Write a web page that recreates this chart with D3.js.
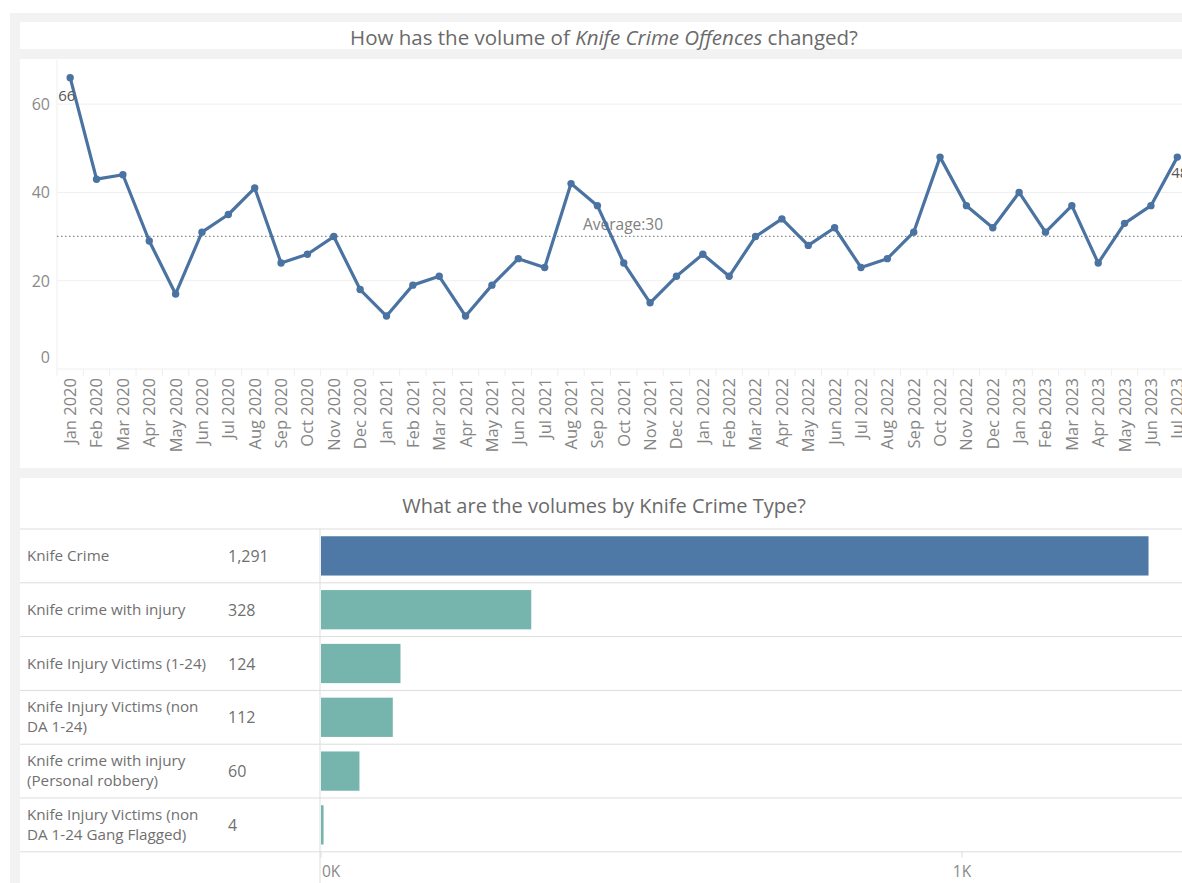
<!DOCTYPE html>
<html>
	<head>
		<meta charset="utf-8">
		<title>Knife Crime</title>
		<script src="https://d3js.org/d3.v7.min.js"></script>
		<style>
			body { margin:0; background:#fff; }
			text { font-family: "Open Sans", sans-serif; }
		</style>
	</head>
	<body>
		<script>

			var months = ["Jan 2020","Feb 2020","Mar 2020","Apr 2020","May 2020","Jun 2020","Jul 2020","Aug 2020","Sep 2020","Oct 2020","Nov 2020","Dec 2020",
				"Jan 2021","Feb 2021","Mar 2021","Apr 2021","May 2021","Jun 2021","Jul 2021","Aug 2021","Sep 2021","Oct 2021","Nov 2021","Dec 2021",
				"Jan 2022","Feb 2022","Mar 2022","Apr 2022","May 2022","Jun 2022","Jul 2022","Aug 2022","Sep 2022","Oct 2022","Nov 2022","Dec 2022",
				"Jan 2023","Feb 2023","Mar 2023","Apr 2023","May 2023","Jun 2023","Jul 2023"];

			var offences = [66,43,44,29,17,31,35,41,24,26,30,18,
				12,19,21,12,19,25,23,42,37,24,15,21,
				26,21,30,34,28,32,23,25,31,48,37,32,
				40,31,37,24,33,37,48];

			var yTicks = [0,20,40,60];

			var crimeTypes = [
				["Knife Crime"],
				["Knife crime with injury"],
				["Knife Injury Victims (1-24)"],
				["Knife Injury Victims (non","DA 1-24)"],
				["Knife crime with injury","(Personal robbery)"],
				["Knife Injury Victims (non","DA 1-24 Gang Flagged)"]
			];
			var typeVolumes = [1291,328,124,112,60,4];
			var xTicks = [0,1000];

			var W = 1182, H = 883;
			var svg = d3.select("body").append("svg")
				.attr("width", W)
				.attr("height", H);

			// grey dashboard background + white panels
			svg.append("rect").attr("x",10).attr("y",13).attr("width",W-10).attr("height",H-13).attr("fill","#f2f2f2");
			svg.append("rect").attr("x",20).attr("y",22).attr("width",W-20).attr("height",27).attr("fill","#fff");
			svg.append("rect").attr("x",20).attr("y",59).attr("width",W-20).attr("height",409).attr("fill","#fff");
			svg.append("rect").attr("x",20).attr("y",478).attr("width",W-20).attr("height",H-478).attr("fill","#fff");

			// ---- line chart ----
			var title1 = svg.append("text")
				.attr("x", 604).attr("y", 45)
				.attr("text-anchor","middle")
				.attr("font-size", 20.5)
				.attr("fill","#6a6a6a");
			title1.append("tspan").text("How has the volume of ");
			title1.append("tspan").attr("font-style","italic").text("Knife Crime Offences");
			title1.append("tspan").text(" changed?");

			var plotLeft = 57, plotTop = 60, plotBottom = 369;
			var x = d3.scaleBand().domain(months).range([plotLeft, plotLeft + months.length*26.36]);
			var y = d3.scaleLinear().domain([0,70]).range([plotBottom, plotTop]);

			var plot = svg.append("g");

			plot.selectAll(".grid").data(yTicks.slice(1)).enter().append("line")
				.attr("x1", plotLeft).attr("x2", W)
				.attr("y1", function(d){ return y(d); })
				.attr("y2", function(d){ return y(d); })
				.attr("stroke","#efefef");

			plot.append("line").attr("x1",plotLeft).attr("x2",plotLeft).attr("y1",plotTop).attr("y2",plotBottom+7).attr("stroke","#efefef");
			plot.append("line").attr("x1",plotLeft).attr("x2",W).attr("y1",plotBottom).attr("y2",plotBottom).attr("stroke","#efefef");

			// y labels (0 sits inside the plot like tableau does)
			plot.selectAll(".ylab").data(yTicks).enter().append("text")
				.attr("x", 50)
				.attr("y", function(d){ return d == 0 ? y(d) - 6 : y(d) + 6; })
				.attr("text-anchor","end")
				.attr("font-size", 16)
				.attr("fill","#8a8a8a")
				.text(function(d){ return d; });

			// band separators under the axis
			plot.selectAll(".sep").data(months).enter().append("line")
				.attr("x1", function(d){ return x(d) + x.bandwidth(); })
				.attr("x2", function(d){ return x(d) + x.bandwidth(); })
				.attr("y1", plotBottom).attr("y2", plotBottom + 7)
				.attr("stroke","#efefef");

			var xAxis = plot.append("g")
				.attr("transform","translate(0," + (plotBottom + 6) + ")")
				.call(d3.axisBottom(x).tickSize(0).tickPadding(0));
			xAxis.select(".domain").remove();
			xAxis.selectAll("text")
				.attr("transform","rotate(-90)")
				.attr("x", -3).attr("y", 0).attr("dy","0.36em")
				.attr("text-anchor","end")
				.attr("font-family","Open Sans, sans-serif")
				.attr("font-size", 16.5)
				.attr("fill","#858585");

			// average reference line
			var avg = d3.mean(offences);
			plot.append("line")
				.attr("x1", plotLeft).attr("x2", W)
				.attr("y1", y(avg)).attr("y2", y(avg))
				.attr("stroke","#888").attr("stroke-width",1.2)
				.attr("stroke-dasharray","1.5,2.5");
			plot.append("text")
				.attr("x", 623).attr("y", y(avg) - 6)
				.attr("text-anchor","middle")
				.attr("font-size", 15.5)
				.attr("fill","#808080")
				.text("Average:" + Math.round(avg));

			var cx = function(d,i){ return x(months[i]) + x.bandwidth()/2; };
			var line = d3.line().x(cx).y(function(d){ return y(d); });

			plot.append("path")
				.datum(offences)
				.attr("fill","none")
				.attr("stroke","#4a73a1")
				.attr("stroke-width",3.2)
				.attr("stroke-linejoin","round")
				.attr("d", line);

			plot.selectAll(".pt").data(offences).enter().append("circle")
				.attr("cx", cx)
				.attr("cy", function(d){ return y(d); })
				.attr("r", 3.7)
				.attr("fill","#4a73a1");

			// first / last labels
			var last = offences.length - 1;
			plot.append("text").attr("x", cx(0,0) - 12).attr("y", y(offences[0]) + 23)
				.attr("font-size",15).attr("fill","#555").text(offences[0]);
			plot.append("text").attr("x", cx(0,last) - 6).attr("y", y(offences[last]) + 21)
				.attr("font-size",15).attr("fill","#555").text(offences[last]);

			// ---- bar chart ----
			svg.append("text")
				.attr("x", 604).attr("y", 513)
				.attr("text-anchor","middle")
				.attr("font-size", 20)
				.attr("fill","#6a6a6a")
				.text("What are the volumes by Knife Crime Type?");

			var rowTop = 529, rowH = 53.8;
			var rows = d3.range(crimeTypes.length);
			var band = d3.scaleBand().domain(rows).range([rowTop, rowTop + rowH*rows.length]).paddingInner(0.27).paddingOuter(0.135);
			var bx = d3.scaleLinear().domain([0,1000]).range([321, 962]);

			var bars = svg.append("g");

			bars.selectAll(".rowline").data(d3.range(rows.length + 1)).enter().append("line")
				.attr("x1", 20).attr("x2", W)
				.attr("y1", function(d){ return rowTop + d*rowH; })
				.attr("y2", function(d){ return rowTop + d*rowH; })
				.attr("stroke","#dddddd");

			bars.append("line").attr("x1",320).attr("x2",320).attr("y1",rowTop).attr("y2",H).attr("stroke","#dddddd");

			bars.selectAll(".bar").data(typeVolumes).enter().append("rect")
				.attr("x", bx(0))
				.attr("y", function(d,i){ return band(i); })
				.attr("width", function(d){ return bx(d) - bx(0); })
				.attr("height", band.bandwidth())
				.attr("fill", function(d,i){ return i == 0 ? "#4e78a5" : "#76b5ae"; });

			bars.selectAll(".lab").data(crimeTypes).enter().append("text")
				.attr("x", 27)
				.attr("y", function(d,i){ return rowTop + i*rowH + rowH/2 + 5 - (d.length - 1)*10; })
				.attr("font-size", 15.2)
				.attr("fill","#707070")
				.each(function(d){
					var t = d3.select(this);
					d.forEach(function(s,k){
						t.append("tspan").attr("x",27).attr("dy", k == 0 ? 0 : 20).text(s);
					});
				});

			bars.selectAll(".val").data(typeVolumes).enter().append("text")
				.attr("x", 228)
				.attr("y", function(d,i){ return rowTop + i*rowH + rowH/2 + 6; })
				.attr("font-size", 16)
				.attr("fill","#707070")
				.text(d3.format(","));

			var axisY = rowTop + rowH*rows.length;
			bars.selectAll(".xt").data(xTicks).enter().append("line")
				.attr("x1", function(d){ return bx(d); }).attr("x2", function(d){ return bx(d); })
				.attr("y1", axisY).attr("y2", axisY + 6)
				.attr("stroke","#dddddd");
			bars.selectAll(".xl").data(xTicks).enter().append("text")
				.attr("x", function(d){ return d == 0 ? bx(d) + 1 : bx(d); })
				.attr("y", axisY + 25)
				.attr("text-anchor", function(d){ return d == 0 ? "start" : "middle"; })
				.attr("font-size", 15.5)
				.attr("fill","#8a8a8a")
				.text(function(d){ return (d/1000) + "K"; });

		</script>
	</body>
</html>
